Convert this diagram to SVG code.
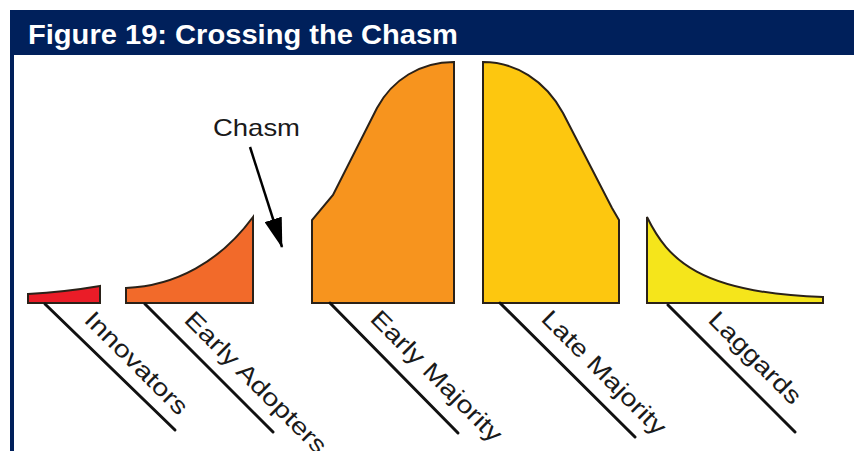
<svg xmlns="http://www.w3.org/2000/svg" width="854" height="451" viewBox="0 0 854 451">
<defs>
<style>
.title{font-family:"Liberation Sans",Arial,sans-serif;font-weight:bold;font-size:27px;fill:#ffffff}
.lbl{font-family:"Liberation Sans",Arial,sans-serif;font-size:24px;fill:#1a1a1a}
.seg{stroke:#2a2118;stroke-width:2;stroke-linejoin:miter}
.conn{stroke:#111;stroke-width:3;fill:none;stroke-linecap:round}
</style>
<marker id="ah" viewBox="0 0 30 18" refX="29" refY="9" markerWidth="30" markerHeight="18" markerUnits="userSpaceOnUse" orient="auto">
<path d="M0,0 L30,9 L0,18 Z" fill="#000"/>
</marker>
</defs>
<rect width="854" height="451" fill="#fff"/>
<g id="header">
<rect x="10" y="10" width="844" height="45" fill="#00205b"/>
<rect x="10" y="55" width="4" height="396" fill="#00205b"/>
<text class="title" x="28" y="44" textLength="430" lengthAdjust="spacingAndGlyphs">Figure 19: Crossing the Chasm</text>
</g>
<g id="innovators">
<path class="seg" fill="#ea1c27" d="M28,294 Q65,292 100,286 L100,303 L28,303 Z"/>
<text class="lbl" transform="translate(83,321) rotate(45)" textLength="135" lengthAdjust="spacingAndGlyphs">Innovators</text>
</g>
<g id="early-adopters">
<path class="seg" fill="#f26a2a" d="M126,288 C175,286 220,262 253,217 L253,303 L126,303 Z"/>
<text class="lbl" transform="translate(183,321) rotate(45)" textLength="190" lengthAdjust="spacingAndGlyphs">Early Adopters</text>
</g>
<g id="early-majority">
<path class="seg" fill="#f7941e" d="M312,303 L312,220 L333,195 L377,108 C392,80 420,62 454,62 L454,303 Z"/>
<text class="lbl" transform="translate(369,320) rotate(45)" textLength="175" lengthAdjust="spacingAndGlyphs">Early Majority</text>
</g>
<g id="late-majority">
<path class="seg" fill="#fdc70f" d="M483,303 L483,62 C515,62 545,80 563,113 L612,208 L619,220 L619,303 Z"/>
<text class="lbl" transform="translate(540,320) rotate(45)" textLength="165" lengthAdjust="spacingAndGlyphs">Late Majority</text>
</g>
<g id="laggards">
<path class="seg" fill="#f5e51b" d="M647,217 C668,260 700,293 823,297 L823,303 L647,303 Z"/>
<text class="lbl" transform="translate(707,321) rotate(45)" textLength="120" lengthAdjust="spacingAndGlyphs">Laggards</text>
</g>
<g id="chasm">
<text class="lbl" x="213" y="136" font-size="22" textLength="87" lengthAdjust="spacingAndGlyphs">Chasm</text>
</g>
<g id="connectors">
<line class="conn" x1="45" y1="304" x2="175" y2="430"/>
<line class="conn" x1="145" y1="304" x2="273" y2="432"/>
<line class="conn" x1="330" y1="303" x2="458" y2="433"/>
<line class="conn" x1="500" y1="303" x2="635" y2="437"/>
<line class="conn" x1="668" y1="305" x2="795" y2="432"/>
<line x1="250" y1="147" x2="282" y2="247" stroke="#000" stroke-width="2.5" marker-end="url(#ah)"/>
</g>
</svg>
